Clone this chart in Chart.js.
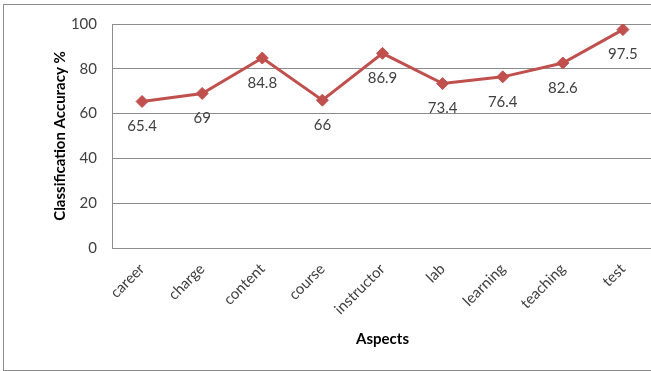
<!DOCTYPE html>
<html>
<head>
<meta charset="utf-8">
<script src="https://cdn.jsdelivr.net/npm/chart.js@4"></script>
<style>
    html, body { margin: 0; padding: 0; background: #fff; overflow: hidden; }
    #wrap { position: relative; width: 651px; height: 371px; overflow: hidden; }
    #accuracyGraph { position: absolute; left: 0; top: 0; }
    #frame { position: absolute; left: 3px; top: 4px; width: 700px; height: 365px; border: 1px solid #8c8c8c; pointer-events: none; }
</style>
</head>
<body>
<div id="wrap">
    <canvas id="accuracyGraph" width="660" height="371"></canvas>
    <div id="frame"></div>
</div>
<script>
const aspects = ['career', 'charge', 'content', 'course', 'instructor', 'lab', 'learning', 'teaching', 'test'];
const accuracy = [65.4, 69, 84.8, 66, 86.9, 73.4, 76.4, 82.6, 97.5];
const yTicks = [0, 20, 40, 60, 80, 100];

const textColor = '#404040';
const gridColor = '#8c8c8c';

// value written under each point
const pointLabels = {
    id: 'pointLabels',
    afterDatasetsDraw(chart) {
        const ctx = chart.ctx;
        const meta = chart.getDatasetMeta(0);
        ctx.save();
        ctx.font = '15px Lato';
        ctx.fillStyle = textColor;
        ctx.textAlign = 'center';
        ctx.textBaseline = 'middle';
        meta.data.forEach((point, i) => {
            ctx.fillText(String(accuracy[i]), point.x, point.y + 25);
        });
        ctx.restore();
    }
};

const accuracyGraph = document.getElementById('accuracyGraph');

const accuracyChart = new Chart(accuracyGraph, {
    type: 'line',
    data: {
        labels: aspects,
        datasets: [{
            data: accuracy,
            borderColor: '#C0504D',
            backgroundColor: '#C0504D',
            borderWidth: 3,
            pointStyle: 'rectRot',
            pointRadius: 6,
            pointBorderWidth: 1,
            tension: 0
        }]
    },
    options: {
        responsive: false,
        animation: false,
        layout: {
            padding: { left: 0, top: 22, right: 4, bottom: 0 }
        },
        plugins: {
            legend: { display: false },
            tooltip: { enabled: false }
        },
        scales: {
            x: {
                offset: true,
                grid: { display: false, drawTicks: false },
                border: { color: gridColor, width: 1 },
                ticks: {
                    color: textColor,
                    font: { family: 'Lato', size: 15 },
                    minRotation: 45,
                    maxRotation: 45,
                    padding: 12
                },
                title: {
                    display: true,
                    text: 'Aspects',
                    color: '#000',
                    font: { family: 'Lato', size: 15, weight: 'bold' },
                    padding: { top: 0, bottom: 23 }
                },
                afterFit: scale => { scale.height = 123; }
            },
            y: {
                min: 0,
                max: 100,
                afterBuildTicks: scale => {
                    scale.ticks = yTicks.map(v => ({ value: v }));
                },
                grid: { color: gridColor, drawTicks: false },
                border: { color: gridColor, width: 1 },
                ticks: {
                    color: textColor,
                    font: { family: 'Lato', size: 15 },
                    padding: 15
                },
                title: {
                    display: true,
                    text: 'Classification Accuracy %',
                    color: '#000',
                    font: { family: 'Lato', size: 15, weight: 'bold' },
                    padding: { top: 51, bottom: 0 }
                },
                afterFit: scale => { scale.width = 112; }
            }
        }
    },
    plugins: [pointLabels]
});
</script>
</body>
</html>
